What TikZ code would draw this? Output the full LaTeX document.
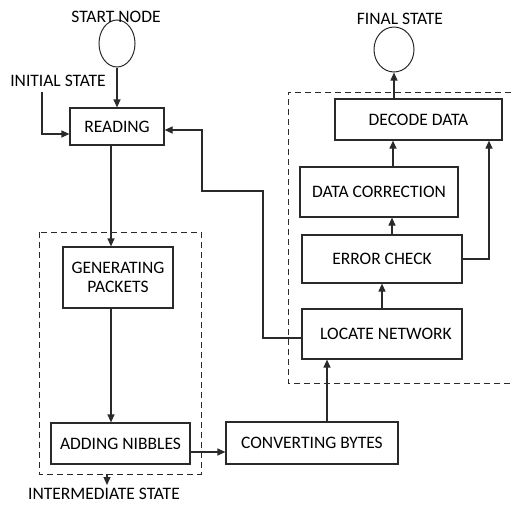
\documentclass[tikz,border=0pt]{standalone}
\usepackage{fontspec}
\setmainfont{Carlito}
\usetikzlibrary{arrows.meta,shapes.geometric}
\definecolor{linegray}{HTML}{2A2A2A}

\begin{document}
\begin{tikzpicture}[x=1pt,y=-1pt,font=\fontsize{17.5}{19.5}\selectfont,line width=1.2pt,draw=linegray,>={Triangle[length=8pt,width=7pt]}]
% Node styles: process box, state ellipse, plain text
\tikzstyle{proc box}=[rectangle,draw=linegray,line width=1.2pt,inner sep=0,align=center];
\tikzstyle{state node}=[ellipse,draw=linegray,line width=1pt,inner sep=0];
\tikzstyle{state text}=[inner sep=0];
\tikzstyle{group box}=[draw=linegray,line width=1pt,dash pattern=on 6pt off 4pt];
\useasboundingbox (0,0) rectangle (511,504);
% The dashed groups
\draw[group box] (39,232) rectangle (201,474);
\draw[group box] (511,92) -- (288,92) -- (288,383) -- (511,383);
% The states
\node(start)[state node,minimum width=36,minimum height=47] at (117,43.5){};
\node(final)[state node,minimum width=40,minimum height=45] at (394,49.5){};
\node(startlbl)[state text] at (116,17){START NODE};
\node(initlbl)[state text] at (58,81){INITIAL STATE};
\node(finallbl)[state text] at (400,19){FINAL STATE};
\node(interlbl)[state text] at (104,493.5){INTERMEDIATE STATE};
% The process boxes
\node(reading)[proc box,minimum width=94,minimum height=37] at (117,126.5){READING};
\node(gen)[proc box,minimum width=110,minimum height=61] at (118,277.5){GENERATING\\ PACKETS};
\node(adding)[proc box,minimum width=139,minimum height=41] at (120.5,443.5){ADDING NIBBLES};
\node(conv)[proc box,minimum width=172,minimum height=42] at (312,443){CONVERTING BYTES};
\node(locate)[proc box,minimum width=160,minimum height=50] at (382,334){\hspace{8pt}LOCATE NETWORK};
\node(error)[proc box,minimum width=160,minimum height=48] at (382,259){ERROR CHECK};
\node(corr)[proc box,minimum width=158,minimum height=50] at (379,192){DATA CORRECTION};
\node(decode)[proc box,minimum width=167,minimum height=41] at (418.5,119.5){DECODE DATA};
% Connector points
\coordinate(init) at (42,92);
\coordinate(inter) at (107,474);
\coordinate(r1) at ([xshift=-6pt]reading.south);
\coordinate(g1) at ([xshift=-7pt]gen.south);
\coordinate(a1) at ([yshift=-8.5pt]adding.east);
\coordinate(c1) at ([xshift=15pt]conv.north);
\coordinate(e1) at ([xshift=10pt]error.north);
\coordinate(d1) at ([xshift=14pt]corr.north);
\coordinate(bk1) at (263,338);
\coordinate(bk2) at (202,191);
% The connectors
\draw[->](start)--(reading);
\draw[->](init)|-([yshift=-7.5pt]reading.west);
\draw[->](r1)--(r1|-gen.north);
\draw[->](g1)--(g1|-adding.north);
\draw[->](a1)--(a1-|conv.west);
\draw[->](inter)--++(0,11);
\draw[->](c1|-conv.north)--(c1|-locate.south);
\draw[->](locate)--(error);
\draw[->](e1)--(e1|-corr.south);
\draw[->](d1)--(d1|-decode.south);
\draw[->](final.south|-decode.north)--(final);
\draw[->](error.east)-|([xshift=70.5pt]decode.south);
\draw[->]([yshift=-4pt]locate.west)-|(bk1)|-(bk2)|-([yshift=-3.5pt]reading.east);
\end{tikzpicture}
\end{document}
